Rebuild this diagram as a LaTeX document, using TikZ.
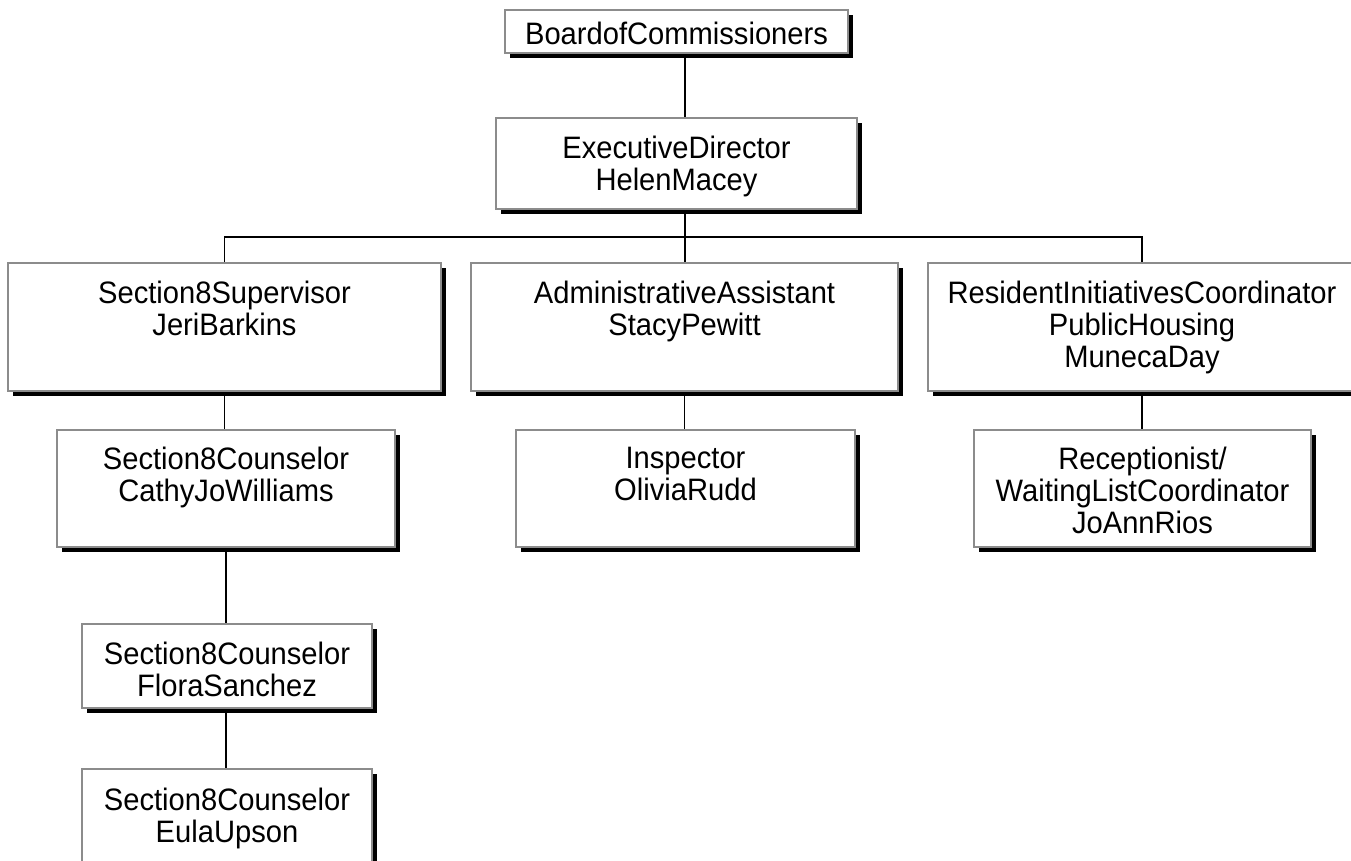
\documentclass[tikz,border=0pt]{standalone}
\usepackage{fontspec}
\setmainfont[FakeStretch=0.94]{Liberation Sans}
\usetikzlibrary{shadows,backgrounds}
\tikzset{
  bx/.style={draw=boxgray, line width=2pt, fill=white, inner sep=0pt,
    drop shadow={shadow xshift=5pt, shadow yshift=-5pt, opacity=1, fill=black}},
  txt/.style={inner sep=0pt, anchor=north, align=center,
    font=\fontsize{31}{32}\selectfont},
  conn/.style={line width=1.6pt, black}
}
\definecolor{boxgray}{RGB}{140,140,140}
\newcommand\orgbox[7]{%
  \node[bx, minimum width={#4-#2}, minimum height={#5-#3}] (#1) at ({(#2+#4)/2},{(#3+#5)/2}) {};
  \node[txt] (#1-t) at ({(#2+#4)/2},{#3+#6}) {#7};
}
\begin{document}
\begin{tikzpicture}[x=1pt,y=-1pt]
\useasboundingbox (0,0) rectangle (1351,861);
\clip (0,0) rectangle (1351,861);
\orgbox{board}{505}{10}{848}{53}{12}{BoardofCommissioners}
\orgbox{exec}{496}{118}{857}{209}{18}{ExecutiveDirector\\HelenMacey}
\orgbox{sup}{8}{263}{441}{391}{18}{Section8Supervisor\\JeriBarkins}
\orgbox{admin}{471}{263}{898}{391}{18}{AdministrativeAssistant\\StacyPewitt}
\orgbox{res}{928}{263}{1356}{391}{18}{ResidentInitiativesCoordinator\\PublicHousing\\MunecaDay}
\orgbox{cathy}{57}{430}{395}{547}{17}{Section8Counselor\\CathyJoWilliams}
\orgbox{insp}{516}{430}{855}{547}{17}{Inspector\\OliviaRudd}
\orgbox{recep}{974}{430}{1311}{547}{17}{Receptionist/\\WaitingListCoordinator\\JoAnnRios}
\orgbox{flora}{82}{624}{372}{708}{18}{Section8Counselor\\FloraSanchez}
\orgbox{eula}{82}{769}{372}{880}{19}{Section8Counselor\\EulaUpson}
\coordinate (bus) at (685,237);
\begin{scope}[on background layer]
  \fill[white] (0,0) rectangle (1351,861);
  \draw[conn] (board.south -| bus) -- (bus |- exec.north);
  \draw[conn] (exec.south -| bus) -- (bus |- admin.north);
  \draw[conn] (sup.north) -- (sup.north |- bus) -- (res.north |- bus) -- (res.north);
  \draw[conn] (sup.south) -- (sup.south |- cathy.north);
  \draw[conn] (cathy.south) -- (cathy.south |- flora.north);
  \draw[conn] (cathy.south |- flora.south) -- (cathy.south |- eula.north);
  \draw[conn] (admin.south) -- (admin.south |- insp.north);
  \draw[conn] (res.south) -- (res.south |- recep.north);
\end{scope}
\end{tikzpicture}
\end{document}
